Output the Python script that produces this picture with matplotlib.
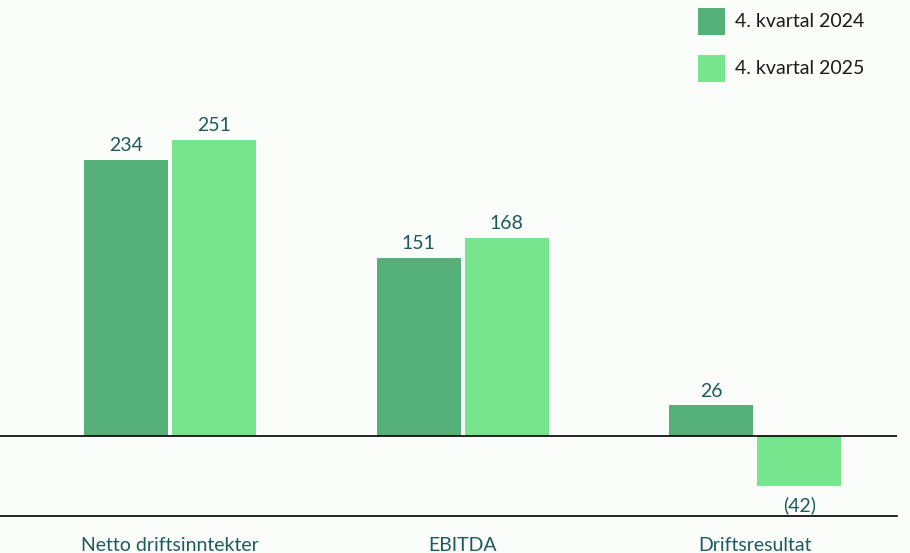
import matplotlib
matplotlib.use("Agg")
import matplotlib.pyplot as plt
from matplotlib.patches import Rectangle
import numpy as np

categories = ["Netto driftsinntekter", "EBITDA", "Driftsresultat"]
series_names = ["4. kvartal 2024", "4. kvartal 2025"]
values_2024 = [234, 151, 26]
values_2025 = [251, 168, -42]
colors = ["#55B07A", "#77E58E"]
text_color = "#1F5A5A"
bg = "#FBFDFB"

plt.rcParams['font.family'] = ['Lato', 'DejaVu Sans']
FS = 14

fig = plt.figure(figsize=(9.10, 5.53), dpi=100, facecolor=bg)
ax = fig.add_axes([0.0, 1 - 516 / 553, 897 / 910, (516 - 60) / 553])
ax.set_facecolor(bg)

x = np.arange(len(categories))
w = 0.287
off = 0.150

def fmt(v):
    return f"({abs(v)})" if v < 0 else f"{v}"

for i, (vals, col) in enumerate(zip([values_2024, values_2025], colors)):
    pos = x + (-off if i == 0 else off)
    ax.bar(pos, vals, width=w, color=col, zorder=2)
    for p, v in zip(pos, vals):
        if v >= 0:
            ax.annotate(fmt(v), (p, v), xytext=(0, 4), textcoords="offset points",
                        ha="center", va="bottom", color=text_color, fontsize=FS)
        else:
            ax.annotate(fmt(v), (p, v), xytext=(0, -8), textcoords="offset points",
                        ha="center", va="top", color=text_color, fontsize=FS)

ax.axhline(0, color="black", lw=1.2, zorder=3)
ax.set_xlim(-170 / 292.7, (897 - 170) / 292.7)
ax.set_ylim(-80 / 1.18, (516 - 60) / 1.18 - 80 / 1.18)

for s in ["top", "left", "right"]:
    ax.spines[s].set_visible(False)
ax.spines["bottom"].set_color("black")
ax.spines["bottom"].set_linewidth(1.2)
ax.set_yticks([])
ax.set_xticks(x)
ax.set_xticklabels(categories, color=text_color, fontsize=FS)
ax.tick_params(axis="x", length=0, pad=15)

# legend
for j, (name, col) in enumerate(zip(series_names, colors)):
    ytop = 8 + j * 47
    fig.patches.append(Rectangle((698 / 910, 1 - (ytop + 27) / 553), 27 / 910, 27 / 553,
                                 transform=fig.transFigure, facecolor=col, edgecolor="none"))
    fig.text(735 / 910, 1 - (ytop + 13.5) / 553, name, va="center", ha="left",
             fontsize=FS, color="#1A1A1A")

fig.savefig("out.png", dpi=100, facecolor=bg)
